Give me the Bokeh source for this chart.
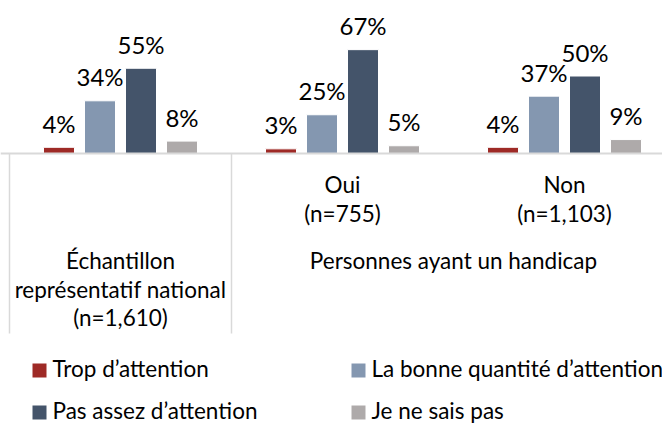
from bokeh.plotting import figure
from bokeh.models import ColumnDataSource, Range1d
from bokeh.core.properties import value
from bokeh.embed import file_html
from bokeh.resources import INLINE

# ---- data ----
series = ["Trop d\u2019attention", "La bonne quantit\u00e9 d\u2019attention",
          "Pas assez d\u2019attention", "Je ne sais pas"]
colors = ["#9e2a26", "#8497b0", "#44546a", "#aeaaaa"]
trop = [4, 3, 4]
bonne = [34, 25, 37]
pas_assez = [55, 67, 50]
nsp = [8, 5, 9]
group_level1 = [["\u00c9chantillon", "repr\u00e9sentatif national", "(n=1,610)"],
                ["Oui", "(n=755)"], ["Non", "(n=1,103)"]]
group_level2 = "Personnes ayant un handicap"

values = [trop, bonne, pas_assez, nsp]

FONT = "Lato"
FS = "22.5px"
W, H = 662, 423
CAT_PX = 222.0      # pixels per category
PX_PER_PCT = 1.55
X0 = 9              # screen x of first category boundary
Y0 = 153            # screen y of baseline
TXT_CORR = 8        # text renders lower than requested baseline

def xd(px):
    return (px - X0) / CAT_PX

def yd(py):
    return (Y0 - py) / PX_PER_PCT

def ytd(py):
    return yd(py - TXT_CORR)

p = figure(width=W, height=H, output_backend="svg", toolbar_location=None,
           x_range=Range1d(xd(0), xd(W)), y_range=Range1d(yd(H), yd(0)),
           min_border=0, min_border_left=0, min_border_right=0,
           min_border_top=0, min_border_bottom=0)
p.axis.visible = False
p.grid.visible = False
p.outline_line_color = None
p.background_fill_color = "white"
p.border_fill_color = "white"

pitch = 41.0 / CAT_PX
bar_w = 31.0 / CAT_PX
n_groups = len(trop)
for k, (vals, col) in enumerate(zip(values, colors)):
    xs = [g + 0.5 + (k - 1.5) * pitch for g in range(n_groups)]
    src = ColumnDataSource(dict(x=xs, top=vals, lab=[f"{v}%" for v in vals]))
    p.vbar(x="x", top="top", bottom=0, width=bar_w, source=src,
           fill_color=col, line_color="white", line_width=1)
    p.text(x="x", y="top", text="lab", source=src, text_align="center",
           text_baseline="alphabetic", y_offset=-16 - TXT_CORR,
           text_font=value(FONT), text_font_size="24px", text_color="#000000")

# axis lines
p.segment(x0=[xd(0)], y0=[0], x1=[xd(W)], y1=[0], line_color="#d9d9d9", line_width=2)
p.segment(x0=[0, 1], y0=[0, 0], x1=[0, 1], y1=[yd(333), yd(333)],
          line_color="#d9d9d9", line_width=1.5)

# category labels
line_h = 28.5
lines = group_level1[0]
p.text(x=[0.5] * len(lines), y=[ytd(268 + i * line_h) for i in range(len(lines))],
       text=lines, text_align="center", text_baseline="alphabetic",
       text_font=value(FONT), text_font_size=FS, text_color="#000000")
for g in (1, 2):
    lines = group_level1[g]
    p.text(x=[g + 0.5] * len(lines), y=[ytd(192 + i * line_h) for i in range(len(lines))],
           text=lines, text_align="center", text_baseline="alphabetic",
           text_font=value(FONT), text_font_size=FS, text_color="#000000")
p.text(x=[2.0], y=[ytd(268)], text=[group_level2], text_align="center",
       text_baseline="alphabetic", text_font=value(FONT), text_font_size=FS,
       text_color="#000000")

# legend
leg_sq_x = [39, 358, 39, 358]
leg_y = [370, 370, 412, 412]
p.scatter(x=[xd(v) for v in leg_sq_x], y=[yd(v) for v in leg_y], marker="square",
          size=14, fill_color=colors, line_color=None)
p.text(x=[xd(v + 13) for v in leg_sq_x], y=[ytd(v + 6) for v in leg_y], text=series,
       text_align="left", text_baseline="alphabetic", text_font=value(FONT),
       text_font_size=FS, text_color="#000000")

open("out.html", "w").write(file_html(p, INLINE))
